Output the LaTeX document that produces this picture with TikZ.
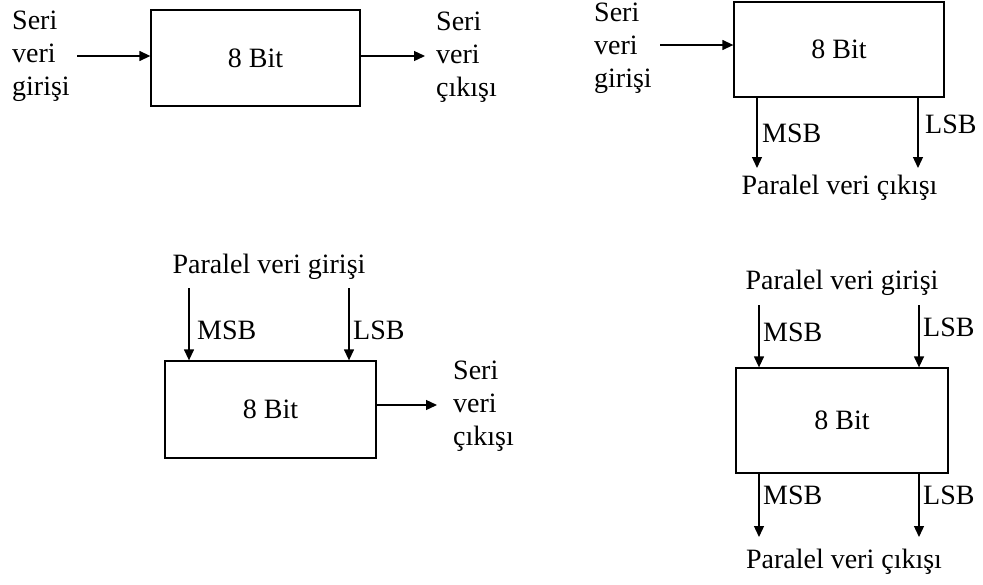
\documentclass[tikz,border=0pt]{standalone}
\usepackage{fontspec}
\setmainfont{Liberation Serif}
\usetikzlibrary{arrows.meta}
\tikzset{
  reg/.style={draw, line width=1.3pt, inner sep=0pt, font=\fontsize{28}{33}\selectfont},
  lbl/.style={inner sep=0pt, align=left, font=\fontsize{28}{33}\selectfont},
  flow/.style={-{Triangle[length=11pt,width=10pt]}, line width=1.3pt},
}
\begin{document}
\begin{tikzpicture}[x=1pt,y=-1pt]
\useasboundingbox (0,0) rectangle (983,584);

% seri giris, seri cikis
\node[reg, minimum width=209pt, minimum height=96pt] (b1) at (255.5,58) {8 Bit};
\node[lbl, anchor=west] (si1) at (12,56) {Seri\\veri\\girişi};
\node[lbl, anchor=west] (so1) at (436,57) {Seri\\veri\\çıkışı};
\coordinate (a1) at (77,56);
\coordinate (e1) at (425,56);
\draw[flow] (a1) -- (a1 -| b1.west);
\draw[flow] (b1.east |- e1) -- (e1);

% seri giris, paralel cikis
\node[reg, minimum width=210pt, minimum height=95pt] (b2) at (839,49.5) {8 Bit};
\node[lbl, anchor=west] (si2) at (594,48) {Seri\\veri\\girişi};
\coordinate (a2) at (660,45);
\draw[flow] (a2) -- (a2 -| b2.west);
\coordinate (m2) at (757,168);
\coordinate (l2) at (918,168);
\draw[flow] (m2 |- b2.south) -- (m2);
\draw[flow] (l2 |- b2.south) -- (l2);
\node[lbl, anchor=west] (ms2) at (762,133) {MSB};
\node[lbl, anchor=west] (ls2) at (925,124) {LSB};
\node[lbl] (po2) at (839.5,188) {Paralel veri çıkışı};

% paralel giris, seri cikis
\node[reg, minimum width=211pt, minimum height=97pt] (b3) at (270.5,409.5) {8 Bit};
\node[lbl] (pi3) at (269,267) {Paralel veri girişi};
\coordinate (m3) at (189,288);
\coordinate (l3) at (349,288);
\draw[flow] (m3) -- (m3 |- b3.north);
\draw[flow] (l3) -- (l3 |- b3.north);
\node[lbl, anchor=west] (ms3) at (197,330) {MSB};
\node[lbl, anchor=west] (ls3) at (353,330) {LSB};
\coordinate (e3) at (437,405);
\draw[flow] (b3.east |- e3) -- (e3);
\node[lbl, anchor=west] (so3) at (453,406) {Seri\\veri\\çıkışı};

% paralel giris, paralel cikis
\node[reg, minimum width=212pt, minimum height=105pt] (b4) at (842,420.5) {8 Bit};
\node[lbl] (pi4) at (842,283) {Paralel veri girişi};
\coordinate (m4) at (759,305);
\coordinate (l4) at (919,305);
\draw[flow] (m4) -- (m4 |- b4.north);
\draw[flow] (l4) -- (l4 |- b4.north);
\node[lbl, anchor=west] (ms4) at (763,332) {MSB};
\node[lbl, anchor=west] (ls4) at (923,327) {LSB};
\coordinate (n4) at (759,537);
\coordinate (k4) at (919,537);
\draw[flow] (n4 |- b4.south) -- (n4);
\draw[flow] (k4 |- b4.south) -- (k4);
\node[lbl, anchor=west] (ms5) at (763,495) {MSB};
\node[lbl, anchor=west] (ls5) at (923,495) {LSB};
\node[lbl] (po4) at (844,562) {Paralel veri çıkışı};
\end{tikzpicture}
\end{document}
